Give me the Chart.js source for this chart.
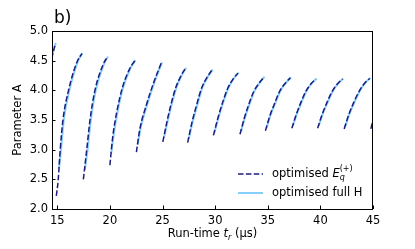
<!DOCTYPE html>
<html>
<head>
<meta charset="utf-8">
<script src="https://cdn.jsdelivr.net/npm/chart.js@4.4.1/dist/chart.umd.min.js"></script>
<style>
  html, body { margin: 0; padding: 0; background: #fff; }
  #wrap { width: 415px; height: 249px; position: relative; }
</style>
</head>
<body>
<div id="wrap"><canvas id="paramChart"></canvas></div>
<script>
const xTicks = [15, 20, 25, 30, 35, 40, 45];
const yTicks = [2.0, 2.5, 3.0, 3.5, 4.0, 4.5, 5.0];

// optimised E_q^(+) : one list of [t_r, A] per branch
const segmentsEq = [
  [[14.30, 4.40], [14.50, 4.56], [14.81, 4.78]],
  [[14.91, 2.22], [15.09, 2.49], [15.28, 3.00], [15.54, 3.50], [16.07, 4.00], [16.86, 4.47], [17.33, 4.62]],
  [[17.48, 2.50], [17.80, 3.00], [18.11, 3.50], [18.58, 4.00], [19.37, 4.44], [19.75, 4.56]],
  [[20.00, 2.74], [20.28, 3.23], [20.66, 3.64], [21.18, 4.04], [21.84, 4.35], [22.36, 4.50]],
  [[22.52, 2.96], [22.85, 3.35], [23.46, 3.75], [24.24, 4.17], [24.88, 4.46]],
  [[25.03, 3.13], [25.42, 3.47], [25.80, 3.76], [26.27, 4.05], [26.74, 4.24], [27.17, 4.37]],
  [[27.39, 3.12], [27.80, 3.46], [28.22, 3.74], [28.72, 4.04], [29.23, 4.22], [29.69, 4.34]],
  [[29.84, 3.24], [30.26, 3.53], [30.68, 3.78], [31.19, 4.03], [31.70, 4.19], [32.17, 4.29]],
  [[32.36, 3.26], [32.77, 3.53], [33.17, 3.75], [33.67, 3.98], [34.17, 4.12], [34.62, 4.22]],
  [[34.78, 3.32], [35.20, 3.57], [35.63, 3.77], [36.15, 3.99], [36.67, 4.12], [37.14, 4.21]],
  [[37.29, 3.36], [37.70, 3.59], [38.11, 3.78], [38.61, 3.98], [39.11, 4.11], [39.56, 4.19]],
  [[39.74, 3.36], [40.16, 3.59], [40.59, 3.78], [41.11, 3.98], [41.63, 4.11], [42.10, 4.19]],
  [[42.26, 3.35], [42.70, 3.59], [43.13, 3.78], [43.67, 3.98], [44.20, 4.12], [44.69, 4.20]],
  [[44.80, 3.35], [45.10, 3.58]]
];

// optimised full H
const segmentsFull = [
  [[14.30, 4.42], [14.50, 4.58], [14.86, 4.80]],
  [[15.16, 2.68], [15.36, 3.00], [15.62, 3.50], [16.15, 4.00], [16.94, 4.48], [17.40, 4.63]],
  [[17.62, 2.66], [17.88, 3.00], [18.19, 3.50], [18.66, 4.00], [19.45, 4.45], [19.83, 4.57]],
  [[20.14, 2.95], [20.36, 3.25], [20.74, 3.65], [21.26, 4.05], [21.92, 4.36], [22.44, 4.51]],
  [[22.64, 3.08], [22.93, 3.37], [23.54, 3.76], [24.32, 4.18], [24.96, 4.47]],
  [[25.14, 3.20], [25.50, 3.49], [25.88, 3.77], [26.35, 4.06], [26.82, 4.25], [27.25, 4.38]],
  [[27.49, 3.18], [27.88, 3.48], [28.30, 3.75], [28.80, 4.05], [29.31, 4.23], [29.77, 4.35]],
  [[29.94, 3.29], [30.34, 3.55], [30.76, 3.79], [31.27, 4.04], [31.78, 4.20], [32.25, 4.30]],
  [[32.46, 3.30], [32.85, 3.55], [33.25, 3.76], [33.75, 3.99], [34.25, 4.13], [34.70, 4.23]],
  [[34.88, 3.36], [35.28, 3.59], [35.71, 3.78], [36.23, 4.00], [36.75, 4.13], [37.22, 4.22]],
  [[37.39, 3.40], [37.78, 3.61], [38.19, 3.79], [38.69, 3.99], [39.19, 4.12], [39.64, 4.20]],
  [[39.84, 3.40], [40.24, 3.61], [40.67, 3.79], [41.19, 3.99], [41.71, 4.12], [42.18, 4.20]],
  [[42.36, 3.39], [42.78, 3.61], [43.21, 3.79], [43.75, 3.99], [44.28, 4.13], [44.77, 4.21]],
  [[44.90, 3.39], [45.10, 3.55]]
];

const NAVY = '#1c1c7e';
const LIGHT = '#87cefa';
const FONT = "'DejaVu Sans', sans-serif";
const DASH = [5.5, 2.4];

// Chart.js paints dataset 0 last, so the dashed branches go first to sit on top
const datasets = [];
segmentsEq.forEach(seg => {
  datasets.push({
    label: 'optimised Eq(+)',
    data: seg.map(([x, y]) => ({ x, y })),
    borderColor: NAVY,
    borderWidth: 1.5,
    borderDash: DASH,
    pointRadius: 0,
    showLine: true,
    fill: false,
    cubicInterpolationMode: 'monotone'
  });
});
segmentsFull.forEach(seg => {
  datasets.push({
    label: 'optimised full H',
    data: seg.map(([x, y]) => ({ x, y })),
    borderColor: LIGHT,
    borderWidth: 2,
    pointRadius: 0,
    showLine: true,
    fill: false,
    cubicInterpolationMode: 'monotone'
  });
});

// box, inward ticks, titles and legend in matplotlib style
const decor = {
  id: 'decor',
  afterDatasetsDraw(chart) {
    const { ctx, chartArea: a, scales: { x, y } } = chart;
    ctx.save();
    ctx.strokeStyle = '#000';
    ctx.lineWidth = 1;
    ctx.strokeRect(a.left + 0.5, a.top + 0.5, a.right - a.left - 1, a.bottom - a.top);

    xTicks.forEach(v => {
      const px = Math.round(x.getPixelForValue(v)) + 0.5;
      ctx.beginPath();
      ctx.moveTo(px, a.bottom);
      ctx.lineTo(px, a.bottom - 3.5);
      ctx.stroke();
    });
    yTicks.forEach(v => {
      const py = Math.round(y.getPixelForValue(v)) + 0.5;
      ctx.beginPath();
      ctx.moveTo(a.left, py);
      ctx.lineTo(a.left + 3.5, py);
      ctx.stroke();
    });

    ctx.fillStyle = '#000';
    ctx.textBaseline = 'alphabetic';

    // panel label
    ctx.font = `17px ${FONT}`;
    ctx.textAlign = 'left';
    ctx.fillText('b)', 54, 23);

    // y title
    ctx.save();
    ctx.translate(18, (a.top + a.bottom) / 2);
    ctx.rotate(-Math.PI / 2);
    ctx.font = `11.5px ${FONT}`;
    ctx.textAlign = 'center';
    ctx.textBaseline = 'middle';
    ctx.fillText('Parameter A', 0, 0);
    ctx.restore();

    // x title: Run-time t_r (µs)
    const parts = [
      { t: 'Run-time ', f: `11.5px ${FONT}`, dy: 0 },
      { t: 't', f: `italic 11.5px ${FONT}`, dy: 0 },
      { t: 'r', f: `italic 8px ${FONT}`, dy: 2.5 },
      { t: ' (µs)', f: `11.5px ${FONT}`, dy: 0 }
    ];
    let w = 0;
    parts.forEach(p => { ctx.font = p.f; w += ctx.measureText(p.t).width; });
    let cx = (a.left + a.right) / 2 - w / 2;
    ctx.textAlign = 'left';
    parts.forEach(p => {
      ctx.font = p.f;
      ctx.fillText(p.t, cx, 237 + p.dy);
      cx += ctx.measureText(p.t).width;
    });

    // legend
    const lx0 = 238, lx1 = 263, tx = 272;
    const r1 = 174, r2 = 193;
    ctx.lineWidth = 1.5;
    ctx.strokeStyle = NAVY;
    ctx.setLineDash(DASH);
    ctx.beginPath(); ctx.moveTo(lx0, r1); ctx.lineTo(lx1, r1); ctx.stroke();
    ctx.setLineDash([]);
    ctx.lineWidth = 2;
    ctx.strokeStyle = LIGHT;
    ctx.beginPath(); ctx.moveTo(lx0, r2); ctx.lineTo(lx1, r2); ctx.stroke();

    ctx.textBaseline = 'middle';
    ctx.font = `11.5px ${FONT}`;
    ctx.fillText('optimised ', tx, r1);
    let ex = tx + ctx.measureText('optimised ').width;
    ctx.font = `italic 11.5px ${FONT}`;
    ctx.fillText('E', ex, r1);
    ex += ctx.measureText('E').width;
    ctx.font = `italic 8px ${FONT}`;
    ctx.fillText('q', ex, r1 + 4);
    ctx.font = `8px ${FONT}`;
    ctx.fillText('(+)', ex, r1 - 5);
    ctx.font = `11.5px ${FONT}`;
    ctx.fillText('optimised full H', tx, r2);
    ctx.restore();
  }
};

new Chart(document.getElementById('paramChart'), {
  type: 'scatter',
  data: { datasets },
  options: {
    responsive: true,
    maintainAspectRatio: false,
    animation: false,
    layout: { padding: { left: 0, right: 42, top: 31, bottom: 0 } },
    plugins: { legend: { display: false }, tooltip: { enabled: false } },
    scales: {
      x: {
        type: 'linear',
        min: 14.5,
        max: 45,
        afterBuildTicks: s => { s.ticks = xTicks.map(v => ({ value: v })); },
        afterFit: s => { s.height = 40; },
        grid: { display: false, drawTicks: false },
        border: { display: false },
        ticks: { padding: 5, color: '#000', font: { family: FONT, size: 11.5 }, maxRotation: 0 }
      },
      y: {
        min: 2.0,
        max: 5.0,
        afterBuildTicks: s => { s.ticks = yTicks.map(v => ({ value: v })); },
        afterFit: s => { s.width = 52; },
        grid: { display: false, drawTicks: false },
        border: { display: false },
        ticks: {
          padding: 4,
          color: '#000',
          font: { family: FONT, size: 11.5 },
          callback: v => Number(v).toFixed(1)
        }
      }
    }
  },
  plugins: [decor]
});
</script>
</body>
</html>
